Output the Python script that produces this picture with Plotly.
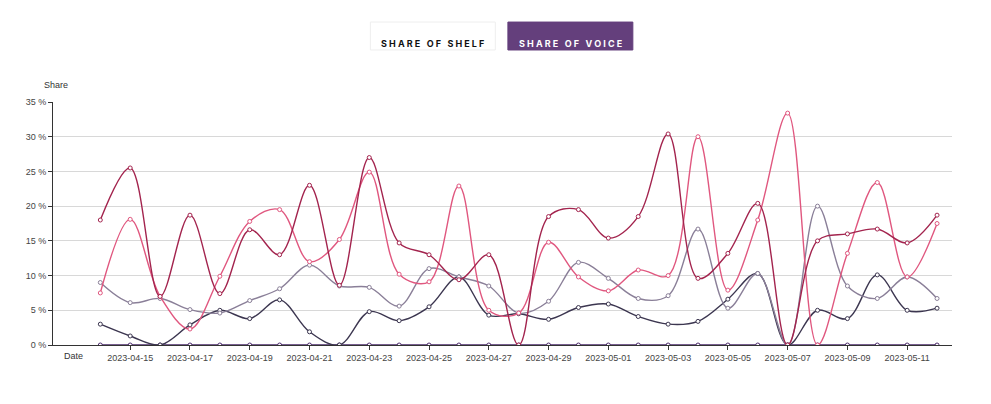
import pandas as pd
import plotly.graph_objs as go

dates = pd.date_range("2023-04-14", "2023-05-12", freq="D")
tick_dates = dates[1::2]

brand_a = [18.0, 25.5, 7.0, 18.7, 7.4, 16.6, 13.0, 23.0, 8.6, 27.0, 14.7, 13.0, 9.4, 13.0, 0.0,
           18.5, 19.5, 15.4, 18.5, 30.4, 9.6, 13.2, 20.4, 0.0, 15.0, 16.0, 16.7, 14.7, 18.7]
brand_b = [7.5, 18.1, 7.0, 2.3, 9.9, 17.8, 19.5, 12.0, 15.2, 24.9, 10.2, 9.1, 22.9, 5.0, 4.6,
           14.8, 9.8, 7.8, 10.8, 10.0, 30.0, 7.9, 18.0, 33.4, 0.0, 13.2, 23.4, 9.8, 17.5]
brand_c = [9.0, 6.1, 6.7, 5.1, 4.6, 6.4, 8.1, 11.5, 8.5, 8.3, 5.6, 11.0, 9.8, 8.5, 4.6,
           6.3, 11.9, 9.6, 6.7, 7.1, 16.7, 5.3, 10.3, 0.0, 20.0, 8.5, 6.7, 9.8, 6.7]
brand_d = [3.0, 1.3, 0.0, 2.9, 5.0, 3.8, 6.5, 1.9, 0.0, 4.8, 3.5, 5.5, 9.8, 4.3, 4.5,
           3.7, 5.4, 5.9, 4.1, 3.0, 3.4, 6.6, 10.3, 0.0, 5.0, 3.8, 10.1, 5.0, 5.3]
brand_e = [0.0] * len(dates)

series = [
    ("Brand E", brand_e, "#4a2a6a"),
    ("Brand D", brand_d, "#3c3650"),
    ("Brand C", brand_c, "#8a7f98"),
    ("Brand B", brand_b, "#e0577f"),
    ("Brand A", brand_a, "#a3244e"),
]

fig = go.Figure()
for name, vals, color in series:
    fig.add_trace(go.Scatter(
        x=dates, y=vals, name=name, mode="lines+markers",
        line=dict(color=color, width=1.4, shape="spline", smoothing=1.0),
        marker=dict(size=4, color="white", line=dict(color=color, width=1)),
    ))

fig.update_layout(
    width=991, height=404,
    margin=dict(l=45, r=47, t=94, b=67),
    paper_bgcolor="white", plot_bgcolor="white",
    showlegend=False,
    font=dict(family="Liberation Sans, Arial", size=9, color="#444"),
    xaxis=dict(
        range=["2023-04-12 10:00", "2023-05-12 12:00"],
        tickformat="%Y-%m-%d", tickvals=tick_dates,
        showgrid=False, showline=True, linecolor="#333", linewidth=1,
        ticks="outside", ticklen=4, tickcolor="#333",
    ),
    yaxis=dict(
        range=[0, 35], dtick=5, ticksuffix=" %",
        showgrid=True, gridcolor="#d8d8d8", zeroline=False,
        showline=True, linecolor="#333", linewidth=1,
        ticks="outside", ticklen=4, tickcolor="#333",
    ),
    shapes=[
        dict(type="rect", xref="paper", yref="paper", x0=0.353, x1=0.492, y0=1.214, y1=1.329,
             line=dict(color="#eeeeee", width=1), fillcolor="white", layer="above"),
        dict(type="rect", xref="paper", yref="paper", x0=0.506, x1=0.645, y0=1.214, y1=1.329,
             line=dict(color="#643f7c", width=1), fillcolor="#643f7c", layer="above"),
    ],
    annotations=[
        dict(text="<b>S H A R E   O F   S H E L F</b>", xref="paper", yref="paper", x=0.4225, y=1.2715,
             showarrow=False, font=dict(family="Inter", size=9, color="#111")),
        dict(text="<b>S H A R E   O F   V O I C E</b>", xref="paper", yref="paper", x=0.5755, y=1.2715,
             showarrow=False, font=dict(family="Inter", size=9, color="white")),
        dict(text="Share", xref="paper", yref="paper", x=-0.012, y=1.04, xanchor="left", yanchor="bottom",
             showarrow=False, font=dict(size=9, color="#333")),
        dict(text="Date", xref="paper", yref="paper", x=0.01, y=-0.015, xanchor="left", yanchor="top",
             showarrow=False, font=dict(size=9, color="#333")),
    ],
)

fig.write_html("out.html")
